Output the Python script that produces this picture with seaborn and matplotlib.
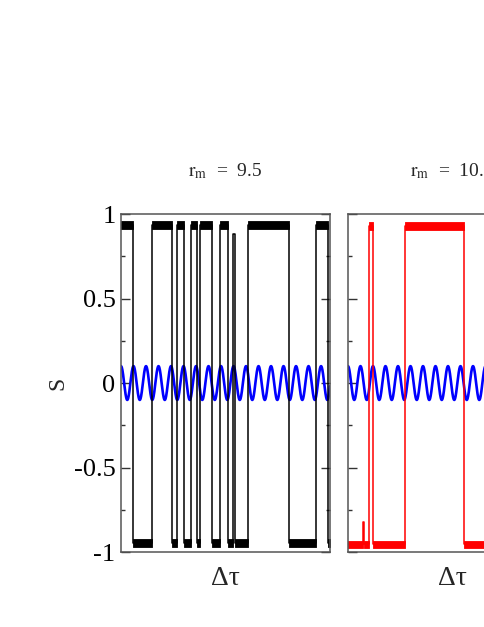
import numpy as np
import matplotlib
matplotlib.use("Agg")
import matplotlib.pyplot as plt
import seaborn as sns
from matplotlib.ticker import MultipleLocator

# r_m value shown above each panel
rm_labels = ["9.5", "10.5"]

# switching times of S (time axis runs 0..209 in each panel)
# and the level S holds after each switch
switch_times_1 = [0, 12, 30.5, 50.5, 55.5, 62.5, 70, 75.5, 79, 91, 98.5,
                  106.5, 112, 113.5, 126.5, 168, 195, 206.5, 209]
levels_1 = [0.935, -0.945, 0.935, -0.945, 0.935, -0.945, 0.935, -0.945,
            0.935, -0.945, 0.935, -0.945, 0.88, -0.945, 0.935, -0.945,
            0.935, -0.945]

switch_times_2 = [0, 15, 15.8, 21.3, 24.7, 57, 116, 209]
levels_2 = [-0.955, -0.82, -0.955, 0.93, -0.955, 0.93, -0.955]

# half width of the noise band around each plateau
noise_1 = 0.024
noise_2 = 0.022

# periodic drive
drive_amplitude = 0.1
drive_period = 12.5
t_end = 209

y_ticks = [-1, -0.5, 0, 0.5, 1]
y_tick_labels = ["-1", "-0.5", "0", "0.5", "1"]

sns.set_style("ticks")
plt.rcParams["font.family"] = ["Liberation Serif", "DejaVu Serif"]
plt.rcParams["mathtext.fontset"] = "stix"

fig = plt.figure(figsize=(4.85, 6.27), dpi=100)
ax1 = fig.add_axes([0.2495, 0.1196, 0.431, 0.539])
ax2 = fig.add_axes([0.7175, 0.1196, 0.431, 0.539])


def draw_panel(ax, times, levels, noise, color, title, show_labels):
    # drive signal
    t = np.linspace(0, t_end, 1200)
    drive = drive_amplitude * np.cos(2 * np.pi * t / drive_period)
    sns.lineplot(x=t, y=drive, ax=ax, color="#0000ff", linewidth=1.9,
                 estimator=None, sort=False)

    # noisy plateaus
    for t0, t1, lvl in zip(times[:-1], times[1:], levels):
        if t1 - t0 >= 2 and abs(lvl) > 0.9:
            ax.fill_between([t0, t1], lvl - noise, lvl + noise,
                            color=color, linewidth=0.6)

    # switching trajectory
    sns.lineplot(x=times, y=list(levels) + [levels[-1]], ax=ax,
                 color=color, linewidth=1.1, drawstyle="steps-post",
                 estimator=None, sort=False)

    ax.set_xlim(0, t_end)
    ax.set_ylim(-1, 1)
    ax.set_xticks([])
    ax.set_yticks(y_ticks)
    ax.yaxis.set_minor_locator(MultipleLocator(0.25))
    ax.tick_params(axis="y", which="both", direction="in",
                   left=True, right=True, colors="#333333",
                   labelcolor="black", labelsize=19, pad=4)
    ax.tick_params(axis="y", which="major", length=6.5, width=1)
    ax.tick_params(axis="y", which="minor", length=3.2, width=1)
    if show_labels:
        ax.set_yticklabels(y_tick_labels)
        ax.set_ylabel("S", fontsize=17)
        ax.yaxis.set_label_coords(-0.25, 0.5)
    else:
        ax.set_yticklabels([])
    ax.set_xlabel("Δτ", fontsize=20, labelpad=10)
    for spine in ax.spines.values():
        spine.set_visible(True)
        spine.set_color("#555555")
        spine.set_linewidth(1.1)
    ax.set_title(r"$\mathrm{r_m}$  =  " + title, fontsize=14, pad=27)


draw_panel(ax1, switch_times_1, levels_1, noise_1, "black",
           rm_labels[0], True)
draw_panel(ax2, switch_times_2, levels_2, noise_2, "#ff0000",
           rm_labels[1], False)

fig.savefig("out.png", dpi=100)
plt.close(fig)
